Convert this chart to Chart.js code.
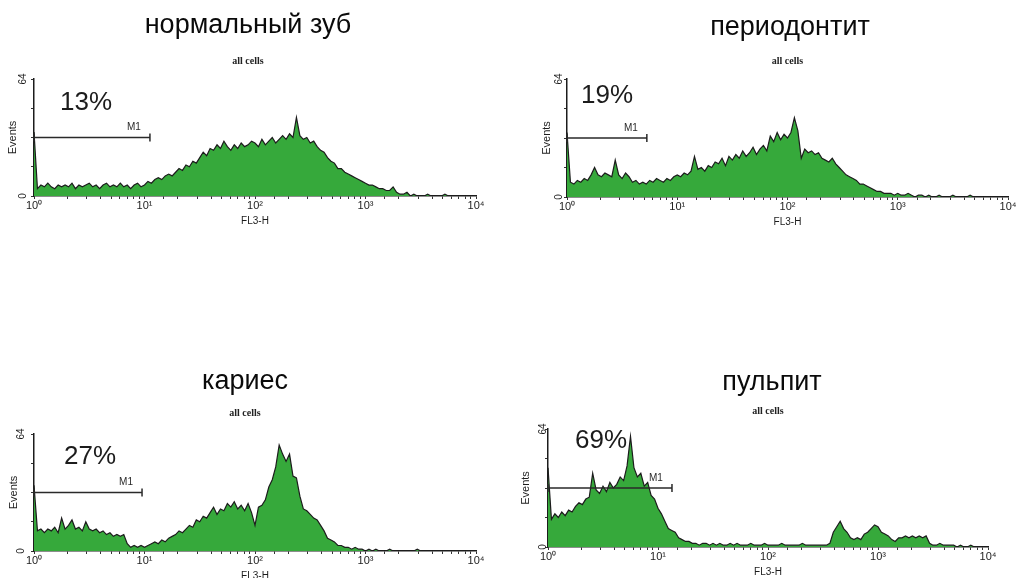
<!DOCTYPE html>
<html>
<head>
<meta charset="utf-8">
<script src="https://cdn.jsdelivr.net/npm/chart.js@4/dist/chart.umd.min.js"></script>
<style>
  html, body { margin: 0; padding: 0; background: #fff; overflow: hidden; }
  body { width: 1022px; height: 578px; position: relative; }
  canvas { position: absolute; }
</style>
</head>
<body>
<canvas id="c0"></canvas>
<canvas id="c1"></canvas>
<canvas id="c2"></canvas>
<canvas id="c3"></canvas>
<script>
// FL3-H histograms, log amplifier: 32 channels per decade, 4 decades
const CHANNELS_PER_DECADE = 32;

const titles = ["нормальный зуб", "периодонтит", "кариес", "пульпит"];
const gatePercent = ["13%", "19%", "27%", "69%"];
const gateEnd = [11.2, 5.3, 9.5, 13.4];   // right edge of marker M1 (FL3-H)
const GATE_LEVEL = 32;                      // height at which M1 is drawn (events)
const decadeLabels = ["10⁰", "10¹", "10²", "10³", "10⁴"];
const yTickLabels = { 0: "0", 64: "64" };

// events per channel
const normalCounts = [35,
  4, 6, 5, 7, 5, 4, 6, 5,
  6, 5, 7, 4, 6, 5, 6, 7,
  5, 6, 4, 6, 7, 5, 6, 5,
  7, 5, 6, 4, 6, 7, 5, 6,
  8, 7, 9, 10, 9, 11, 12, 11,
  13, 15, 14, 17, 16, 19, 18, 21,
  24, 22, 26, 25, 28, 26, 30, 27,
  25, 28, 26, 29, 27, 28, 30, 29,
  27, 31, 28, 30, 32, 29, 31, 33,
  31, 34, 32, 43, 33, 31, 32, 29,
  30, 27, 25, 24, 21, 19, 18, 15,
  15, 13, 12, 11, 10, 9, 8, 7,
  6, 6, 5, 4, 4, 3, 3, 5,
  2, 1, 1, 2, 0, 1, 0, 0,
  0, 1, 0, 0, 0, 0, 1, 0,
  0, 0, 0, 0, 0, 0, 0];

const periodontitisCounts = [35,
  8, 7, 9, 8, 10, 9, 12, 16,
  12, 11, 13, 12, 11, 20, 12, 10,
  13, 11, 8, 9, 7, 8, 7, 9,
  8, 10, 9, 8, 10, 9, 11, 12,
  11, 13, 12, 14, 22, 15, 16, 14,
  17, 16, 19, 18, 21, 17, 22, 20,
  23, 21, 25, 22, 24, 27, 23, 26,
  28, 25, 33, 30, 35, 31, 34, 32,
  35, 43, 36, 21, 26, 24, 25, 23,
  24, 21, 20, 19, 21, 18, 16, 14,
  12, 11, 10, 9, 7, 7, 6, 5,
  4, 3, 3, 2, 2, 2, 1, 2,
  1, 1, 2, 1, 0, 1, 1, 0,
  1, 0, 0, 1, 0, 0, 0, 1,
  0, 0, 0, 0, 1, 0, 0, 0,
  0, 0, 0, 0, 0, 0, 0];

const cariesCounts = [36,
  11, 12, 10, 12, 11, 13, 10, 18,
  12, 14, 17, 12, 13, 11, 16, 12,
  11, 12, 10, 11, 9, 10, 8, 9,
  8, 9, 4, 2, 3, 2, 3, 2,
  3, 4, 5, 4, 6, 5, 7, 8,
  9, 11, 10, 12, 14, 13, 17, 16,
  19, 18, 21, 24, 20, 23, 22, 26,
  24, 27, 23, 25, 22, 26, 21, 14,
  24, 25, 28, 35, 39, 46, 58, 53,
  49, 53, 41, 40, 30, 23, 22, 20,
  18, 17, 14, 11, 7, 6, 5, 3,
  3, 2, 2, 1, 2, 1, 1, 0,
  1, 0, 1, 0, 0, 0, 1, 0,
  0, 0, 0, 0, 0, 0, 1, 0,
  0, 0, 0, 0, 0, 0, 0, 0,
  0, 0, 0, 0, 0, 0, 0];

const pulpitisCounts = [43,
  15, 18, 16, 19, 17, 20, 19, 22,
  24, 23, 26, 27, 40, 31, 29, 33,
  30, 35, 32, 34, 38, 36, 44, 60,
  43, 38, 40, 33, 35, 28, 26, 21,
  18, 14, 10, 9, 8, 5, 4, 3,
  3, 2, 2, 1, 2, 2, 1, 2,
  1, 2, 1, 1, 2, 1, 2, 1,
  1, 1, 2, 1, 1, 1, 2, 1,
  1, 1, 1, 2, 1, 1, 1, 1,
  1, 2, 1, 1, 1, 1, 1, 1,
  1, 2, 8, 11, 14, 10, 8, 5,
  4, 5, 4, 7, 8, 10, 12, 11,
  8, 7, 6, 4, 3, 5, 5, 6,
  5, 6, 5, 6, 5, 6, 2, 1,
  1, 2, 1, 1, 1, 1, 0, 1,
  0, 0, 1, 0, 0, 0, 0];

const countsByPanel = [normalCounts, periodontitisCounts, cariesCounts, pulpitisCounts];

// where each histogram sits on the page; titles are centred on the canvas
const panelLayout = [
  { left: 0,   top: 0,   width: 496, areaH: 117, yAxisW: 34, padRight: 20, titlePad: [9, 14],  subFull: true,  eventsPad: 6.4, tickPad: 2.4, pctAt: [26, 24] },
  { left: 530, top: 0,   width: 520, areaH: 118, yAxisW: 37, padRight: 42, titlePad: [11, 12], subFull: false, eventsPad: 10,  tickPad: -1,  pctAt: [14, 17] },
  { left: 0,   top: 355, width: 490, areaH: 117, yAxisW: 34, padRight: 14, titlePad: [10, 10], subFull: true,  eventsPad: 7.4, tickPad: 4.4, pctAt: [30, 23] },
  { left: 514, top: 350, width: 516, areaH: 118, yAxisW: 34, padRight: 42, titlePad: [16, 7],  subFull: false, eventsPad: 5.4, tickPad: -4,  pctAt: [27, 12] }
];
const AREA_TOP = 79;
const X_AXIS_H = 36;
const TITLE_SIZE = 27;
const SUB_SIZE = 10;

const SANS = 'Arial, "Liberation Sans", sans-serif';
const SERIF = '"Times New Roman", "Liberation Serif", serif';
const INK = '#1c1c1c';
const FILL = '#36a93b';

// marker M1 and the percentage of gated events
const gatePlugin = {
  id: 'gate',
  afterDatasetsDraw(chart, args, opts) {
    const { ctx, chartArea, scales } = chart;
    const x0 = scales.x.getPixelForValue(1);
    const x1 = scales.x.getPixelForValue(opts.end);
    const y = scales.y.getPixelForValue(GATE_LEVEL);
    ctx.save();
    ctx.strokeStyle = '#2a2a2a';
    ctx.lineWidth = 1.5;
    ctx.beginPath();
    ctx.moveTo(x0, y);
    ctx.lineTo(x1, y);
    ctx.moveTo(x1, y - 4);
    ctx.lineTo(x1, y + 4);
    ctx.moveTo(x0, y - 4);
    ctx.lineTo(x0, y + 4);
    ctx.stroke();
    ctx.fillStyle = '#2a2a2a';
    ctx.font = '10px ' + SANS;
    ctx.textAlign = 'center';
    ctx.textBaseline = 'middle';
    ctx.fillText('M1', x1 - 16, y - 10);
    ctx.fillStyle = INK;
    ctx.font = '26px ' + SANS;
    ctx.textAlign = 'left';
    ctx.fillText(opts.percent, chartArea.left + opts.at[0], chartArea.top + opts.at[1]);
    ctx.restore();
  }
};

function decadeLabel(v) {
  const p = Math.round(Math.log10(v));
  return Math.abs(Math.log10(v) - p) < 1e-6 ? decadeLabels[p] : '';
}

countsByPanel.forEach((counts, p) => {
  const L = panelLayout[p];
  const canvas = document.getElementById('c' + p);
  canvas.width = L.width;
  canvas.height = AREA_TOP + L.areaH + X_AXIS_H;
  canvas.style.left = L.left + 'px';
  canvas.style.top = L.top + 'px';

  const titleLine = TITLE_SIZE * 1.2;
  const subLine = SUB_SIZE * 1.2;
  const subPadBottom = AREA_TOP - (L.titlePad[0] + titleLine + L.titlePad[1] + subLine);

  const points = counts.map((v, i) => ({ x: 10 ** (i / CHANNELS_PER_DECADE), y: v }));

  new Chart(canvas, {
    type: 'line',
    data: {
      datasets: [{
        data: points,
        borderColor: INK,
        borderWidth: 1.2,
        backgroundColor: FILL,
        fill: 'origin',
        pointRadius: 0,
        tension: 0
      }]
    },
    options: {
      responsive: false,
      animation: false,
      devicePixelRatio: 1,
      layout: { padding: 0 },
      plugins: {
        legend: { display: false },
        tooltip: { enabled: false },
        title: {
          display: true,
          text: titles[p],
          color: '#0a0a0a',
          font: { family: SANS, size: TITLE_SIZE, weight: 'normal' },
          padding: { top: L.titlePad[0], bottom: L.titlePad[1] }
        },
        subtitle: {
          display: true,
          text: 'all cells',
          color: '#222',
          fullSize: L.subFull,
          font: { family: SERIF, size: SUB_SIZE, weight: 'bold' },
          padding: { top: 0, bottom: subPadBottom }
        },
        gate: { end: gateEnd[p], percent: gatePercent[p], at: L.pctAt }
      },
      scales: {
        x: {
          type: 'logarithmic',
          min: 1,
          max: 10000,
          // keep the plot's right edge fixed without narrowing the title band
          afterFit(scale) {
            scale.height = X_AXIS_H;
            scale.paddingRight = L.padRight;
          },
          border: { display: true, color: INK, width: 1.5 },
          grid: { display: true, drawOnChartArea: false, drawTicks: true, tickLength: 3, tickColor: '#333' },
          ticks: {
            autoSkip: false,
            maxRotation: 0,
            padding: 0,
            color: INK,
            font: { family: SANS, size: 11 },
            callback: decadeLabel
          },
          title: {
            display: true,
            text: 'FL3-H',
            color: INK,
            font: { family: SANS, size: 10 },
            padding: { top: 0, bottom: 5 }
          }
        },
        y: {
          min: 0,
          max: 64,
          afterFit(scale) { scale.width = L.yAxisW; },
          border: { display: true, color: INK, width: 1.5 },
          grid: { display: true, drawOnChartArea: false, drawTicks: true, tickLength: 3, tickColor: '#333' },
          ticks: {
            stepSize: 16,
            autoSkip: false,
            minRotation: 90,
            maxRotation: 90,
            crossAlign: 'center',
            padding: L.tickPad,
            color: INK,
            font: { family: SANS, size: 10 },
            callback: v => yTickLabels[v] || ''
          },
          title: {
            display: true,
            text: 'Events',
            color: INK,
            font: { family: SANS, size: 11 },
            padding: { top: L.eventsPad, bottom: 0 }
          }
        }
      }
    },
    plugins: [gatePlugin]
  });
});
</script>
</body>
</html>
